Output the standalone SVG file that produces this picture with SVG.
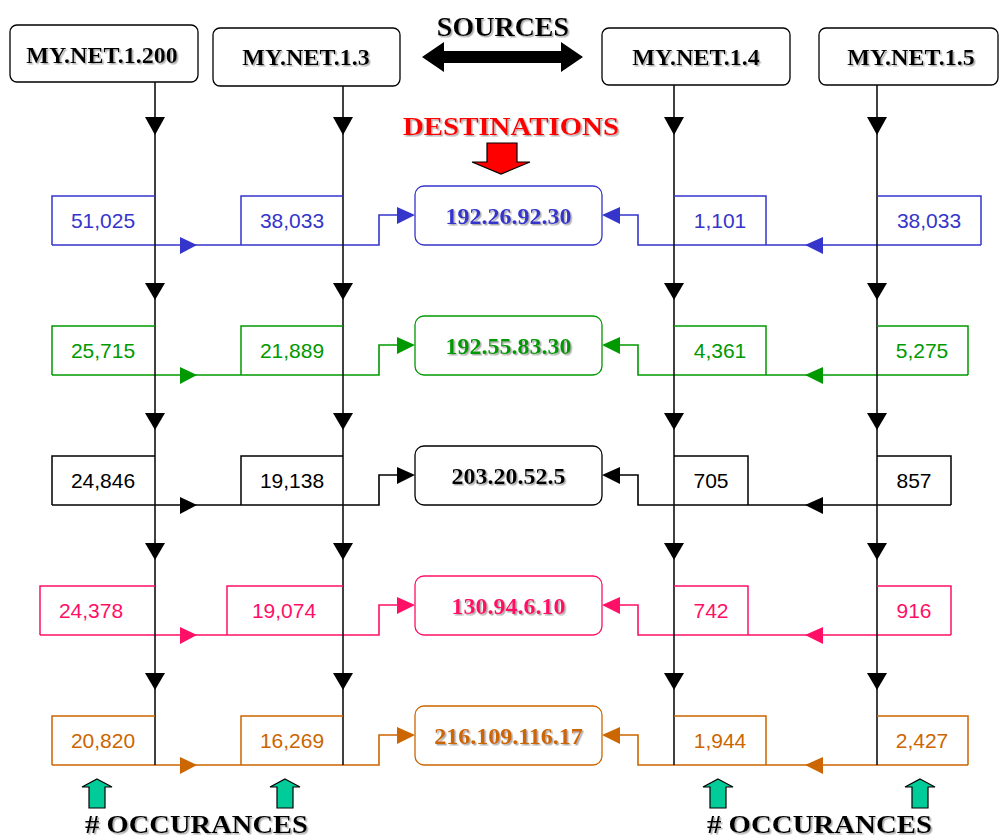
<svg xmlns="http://www.w3.org/2000/svg" width="1000" height="838" viewBox="0 0 1000 838">
<defs>
<filter id="sh" x="-10%" y="-30%" width="130%" height="170%">
<feDropShadow dx="1.5" dy="1.5" stdDeviation="0.6" flood-color="#999" flood-opacity="0.8"/>
</filter>
</defs>
<style>
.bg{fill:#fff}
.src rect{fill:#fff;stroke:#000;stroke-width:1.3}
.ttl{font-family:"Liberation Serif","Times New Roman",serif;font-weight:bold;text-anchor:middle;filter:url(#sh)}
.src text{font-size:24px;fill:#000}
.dst rect{fill:#fff;stroke-width:1.3}
.dst text{font-size:24px}
.num{font-family:"Liberation Sans",Arial,sans-serif;font-size:21px;text-anchor:middle}
.box{fill:none;stroke-width:1.5}
.ln{fill:none;stroke-width:1.6}
.vl{stroke:#111;stroke-width:1.6;fill:none}
.c1{stroke:#3535CC}.f1{fill:#3535CC}
.c2{stroke:#009900}.f2{fill:#009900}
.c3{stroke:#000}.f3{fill:#000}
.c4{stroke:#FF0F66}.f4{fill:#FF0F66}
.c5{stroke:#CC6600}.f5{fill:#CC6600}
.grn{fill:#00CC99;stroke:#000;stroke-width:1.2}
</style>
<rect class="bg" x="0" y="0" width="1000" height="838"/>

<!-- titles -->
<g id="sources-title">
<text class="ttl" x="503" y="36" font-size="28" fill="#000">SOURCES</text>
<polygon points="422,57 444,42 444,51 561,51 561,42 583,57 561,72 561,63 444,63 444,72" fill="#000"/>
</g>
<g id="destinations-title">
<text class="ttl" x="511" y="135" font-size="26" fill="#FF0000" textLength="216" lengthAdjust="spacingAndGlyphs">DESTINATIONS</text>
<polygon points="487,143 517,143 517,162 530,162 501,174 472,162 487,162" fill="#FF0000" stroke="#000" stroke-width="1.2"/>
</g>

<!-- source nodes -->
<g id="src-1-200" class="src"><rect x="10" y="25" width="188" height="57" rx="7"/><text class="ttl" x="102" y="63">MY.NET.1.200</text></g>
<g id="src-1-3" class="src"><rect x="213" y="28" width="187" height="58" rx="7"/><text class="ttl" x="306" y="65">MY.NET.1.3</text></g>
<g id="src-1-4" class="src"><rect x="602" y="28" width="188" height="57" rx="7"/><text class="ttl" x="696" y="65">MY.NET.1.4</text></g>
<g id="src-1-5" class="src"><rect x="819" y="28" width="179" height="57" rx="7"/><text class="ttl" x="911" y="65">MY.NET.1.5</text></g>

<!-- connectors -->
<g id="connectors">
<g id="row1-conn">
<path class="ln c1" d="M52,245 H379 V215 H400"/>
<polygon class="f1" points="180,237 197,245 180,254"/>
<polygon class="f1" points="397,207 415,215 397,224"/>
<path class="ln c1" d="M981,245 H638 V215 H617"/>
<polygon class="f1" points="823,237 805,245 823,254"/>
<polygon class="f1" points="620,207 602,215 620,224"/>
</g>
<g id="row2-conn">
<path class="ln c2" d="M52,375 H379 V345 H400"/>
<polygon class="f2" points="180,367 197,375 180,384"/>
<polygon class="f2" points="397,337 415,345 397,354"/>
<path class="ln c2" d="M968,375 H638 V345 H617"/>
<polygon class="f2" points="823,367 805,375 823,384"/>
<polygon class="f2" points="620,337 602,345 620,354"/>
</g>
<g id="row3-conn">
<path class="ln c3" d="M52,505 H379 V475 H400"/>
<polygon class="f3" points="180,497 197,505 180,514"/>
<polygon class="f3" points="397,467 415,475 397,484"/>
<path class="ln c3" d="M951,505 H638 V475 H617"/>
<polygon class="f3" points="823,497 805,505 823,514"/>
<polygon class="f3" points="620,467 602,475 620,484"/>
</g>
<g id="row4-conn">
<path class="ln c4" d="M40,635 H379 V605 H400"/>
<polygon class="f4" points="180,627 197,635 180,644"/>
<polygon class="f4" points="397,597 415,605 397,614"/>
<path class="ln c4" d="M951,635 H638 V605 H617"/>
<polygon class="f4" points="823,627 805,635 823,644"/>
<polygon class="f4" points="620,597 602,605 620,614"/>
</g>
<g id="row5-conn">
<path class="ln c5" d="M52,765 H379 V735 H400"/>
<polygon class="f5" points="180,757 197,765 180,774"/>
<polygon class="f5" points="397,727 415,735 397,744"/>
<path class="ln c5" d="M968,765 H638 V735 H617"/>
<polygon class="f5" points="823,757 805,765 823,774"/>
<polygon class="f5" points="620,727 602,735 620,744"/>
</g>
<g id="source-lines">
<path class="vl" d="M155,82 V765 M343,86 V765 M674,85 V765 M877,85 V765"/>
<g fill="#000">
<polygon points="145,117 165,117 155,135"/><polygon points="333,117 353,117 343,135"/><polygon points="664,117 684,117 674,135"/><polygon points="867,117 887,117 877,135"/>
<polygon points="145,283 165,283 155,300"/><polygon points="333,283 353,283 343,300"/><polygon points="664,283 684,283 674,300"/><polygon points="867,283 887,283 877,300"/>
<polygon points="145,413 165,413 155,430"/><polygon points="333,413 353,413 343,430"/><polygon points="664,413 684,413 674,430"/><polygon points="867,413 887,413 877,430"/>
<polygon points="145,543 165,543 155,560"/><polygon points="333,543 353,543 343,560"/><polygon points="664,543 684,543 674,560"/><polygon points="867,543 887,543 877,560"/>
<polygon points="145,673 165,673 155,690"/><polygon points="333,673 353,673 343,690"/><polygon points="664,673 684,673 674,690"/><polygon points="867,673 887,673 877,690"/>
</g>
</g>
</g>

<!-- count boxes -->
<g id="row1-counts">
<g id="n-51025"><path class="box c1" d="M155,196 H52 V245"/><text class="num f1" x="103" y="228">51,025</text></g>
<g id="n-38033a"><path class="box c1" d="M343,196 H241 V245"/><text class="num f1" x="292" y="228">38,033</text></g>
<g id="n-1101"><path class="box c1" d="M674,196 H766 V245"/><text class="num f1" x="720" y="228">1,101</text></g>
<g id="n-38033b"><path class="box c1" d="M877,196 H981 V245"/><text class="num f1" x="929" y="228">38,033</text></g>
</g>
<g id="row2-counts">
<g id="n-25715"><path class="box c2" d="M155,326 H52 V375"/><text class="num f2" x="103" y="358">25,715</text></g>
<g id="n-21889"><path class="box c2" d="M343,326 H241 V375"/><text class="num f2" x="292" y="358">21,889</text></g>
<g id="n-4361"><path class="box c2" d="M674,326 H766 V375"/><text class="num f2" x="720" y="358">4,361</text></g>
<g id="n-5275"><path class="box c2" d="M877,326 H968 V375"/><text class="num f2" x="922" y="358">5,275</text></g>
</g>
<g id="row3-counts">
<g id="n-24846"><path class="box c3" d="M155,456 H52 V505"/><text class="num f3" x="103" y="488">24,846</text></g>
<g id="n-19138"><path class="box c3" d="M343,456 H241 V505"/><text class="num f3" x="292" y="488">19,138</text></g>
<g id="n-705"><path class="box c3" d="M674,456 H748 V505"/><text class="num f3" x="711" y="488">705</text></g>
<g id="n-857"><path class="box c3" d="M877,456 H951 V505"/><text class="num f3" x="914" y="488">857</text></g>
</g>
<g id="row4-counts">
<g id="n-24378"><path class="box c4" d="M155,586 H40 V635"/><text class="num f4" x="91" y="618">24,378</text></g>
<g id="n-19074"><path class="box c4" d="M343,586 H227 V635"/><text class="num f4" x="284" y="618">19,074</text></g>
<g id="n-742"><path class="box c4" d="M674,586 H748 V635"/><text class="num f4" x="711" y="618">742</text></g>
<g id="n-916"><path class="box c4" d="M877,586 H951 V635"/><text class="num f4" x="914" y="618">916</text></g>
</g>
<g id="row5-counts">
<g id="n-20820"><path class="box c5" d="M155,716 H52 V765"/><text class="num f5" x="103" y="748">20,820</text></g>
<g id="n-16269"><path class="box c5" d="M343,716 H241 V765"/><text class="num f5" x="292" y="748">16,269</text></g>
<g id="n-1944"><path class="box c5" d="M674,716 H766 V765"/><text class="num f5" x="720" y="748">1,944</text></g>
<g id="n-2427"><path class="box c5" d="M877,716 H968 V765"/><text class="num f5" x="922" y="748">2,427</text></g>
</g>

<!-- destination nodes -->
<g id="dst-192-26-92-30" class="dst"><rect class="c1" x="415" y="186" width="187" height="59" rx="9"/><text class="ttl f1" x="508.5" y="224">192.26.92.30</text></g>
<g id="dst-192-55-83-30" class="dst"><rect class="c2" x="415" y="316" width="187" height="59" rx="9"/><text class="ttl f2" x="508.5" y="354">192.55.83.30</text></g>
<g id="dst-203-20-52-5" class="dst"><rect class="c3" x="415" y="446" width="187" height="59" rx="9"/><text class="ttl f3" x="508.5" y="484">203.20.52.5</text></g>
<g id="dst-130-94-6-10" class="dst"><rect class="c4" x="415" y="576" width="187" height="59" rx="9"/><text class="ttl f4" x="508.5" y="614">130.94.6.10</text></g>
<g id="dst-216-109-116-17" class="dst"><rect class="c5" x="415" y="706" width="187" height="59" rx="9"/><text class="ttl f5" x="508.5" y="744">216.109.116.17</text></g>

<!-- occurrences -->
<g id="occurances">
<polygon class="grn" points="97,779 112,787 105,787 105,808 89,808 89,787 82,787"/>
<polygon class="grn" points="285,779 300,787 293,787 293,808 277,808 277,787 270,787"/>
<polygon class="grn" points="718,779 733,787 726,787 726,808 710,808 710,787 703,787"/>
<polygon class="grn" points="920,779 935,787 928,787 928,808 912,808 912,787 905,787"/>
<text class="ttl" x="196.5" y="833" font-size="26" fill="#000" textLength="223" lengthAdjust="spacingAndGlyphs"># OCCURANCES</text>
<text class="ttl" x="819.5" y="833" font-size="26" fill="#000" textLength="225" lengthAdjust="spacingAndGlyphs"># OCCURANCES</text>
</g>
</svg>
